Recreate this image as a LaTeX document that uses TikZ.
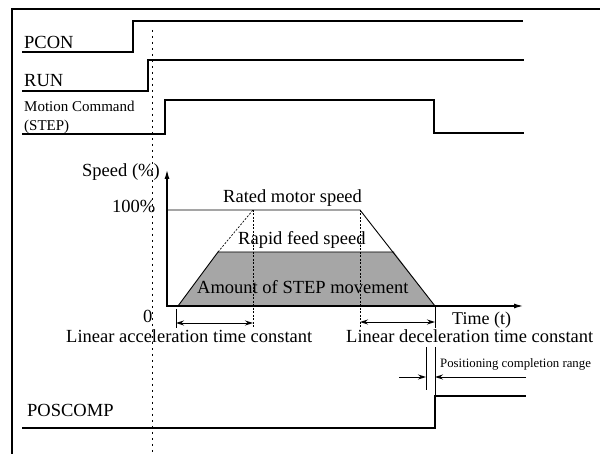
\documentclass[tikz,border=0pt]{standalone}
\usepackage{fontspec}
\setmainfont{Liberation Serif}
\usetikzlibrary{arrows.meta}
\begin{document}
\begin{tikzpicture}[x=1pt,y=-1pt,
  sig/.style={line width=1.3pt},
  thinln/.style={line width=0.9pt},
  guide/.style={line width=0.7pt, dash pattern=on 2pt off 1.5pt},
  lbl/.style={anchor=base west, inner sep=0pt, font=\fontsize{18.5}{20}\selectfont},
  sml/.style={anchor=base west, inner sep=0pt, font=\fontsize{15}{16}\selectfont},
  tinylbl/.style={anchor=base west, inner sep=0pt, font=\fontsize{12.8}{13}\selectfont},
  dimarr/.style={line width=0.9pt, {Stealth[length=8pt,width=5pt]}-{Stealth[length=8pt,width=5pt]}},
  onearr/.style={line width=0.9pt, -{Stealth[length=8pt,width=5pt]}},
  axis/.style={line width=1.1pt, -{Latex[length=9pt,width=5pt]}},
]
\useasboundingbox (0,0) rectangle (600,454);
\fill[white] (0,0) rectangle (600,454);
% frame
\draw[line width=1.2pt] (12,454) -- (12,9) -- (600,9);
% reference dashed line
\coordinate (g1) at (152,30);
\coordinate (g2) at (152,454);
\draw[line width=0.6pt, dash pattern=on 2pt off 4pt] (g1) -- (g2);

% waveforms
\coordinate (p0) at (22,52); \coordinate (p1) at (133,52); \coordinate (p2) at (133,21); \coordinate (p3) at (523,21);
\draw[sig] (p0) -- (p1) -- (p2) -- (p3);
\coordinate (r0) at (22,91); \coordinate (r1) at (148,91); \coordinate (r2) at (148,60); \coordinate (r3) at (524,60);
\draw[sig] (r0) -- (r1) -- (r2) -- (r3);
\coordinate (m0) at (22,134); \coordinate (m1) at (165,134); \coordinate (m2) at (165,100);
\coordinate (m3) at (434,100); \coordinate (m4) at (434,133); \coordinate (m5) at (524,133);
\draw[sig] (m0) -- (m1) -- (m2) -- (m3) -- (m4) -- (m5);
\coordinate (c0) at (22,428); \coordinate (c1) at (435,428); \coordinate (c2) at (435,396); \coordinate (c3) at (526,396);
\draw[sig] (c0) -- (c1) -- (c2) -- (c3);

% speed profile
\coordinate (o) at (167,307);
\coordinate (ytop) at (167,170);
\coordinate (xend) at (523,306);
\coordinate (a0) at (178,306); \coordinate (a1) at (218,252); \coordinate (a2) at (253,210);
\coordinate (d0) at (360,210); \coordinate (d1) at (394,252); \coordinate (d2) at (435,306);
\coordinate (h0) at (167,210);
\fill[black!35] (a0) -- (a1) -- (d1) -- (d2) -- cycle;
\draw[thinln] (a0) -- (a1) -- (d1);
\draw[guide] (a1) -- (a2);
\draw[thinln] (h0) -- (d0) -- (d2);
\draw[axis] (o) -- (ytop);
\draw[axis] (167,306) -- (xend);
% guides and ticks
\coordinate (v1) at (253,328); \coordinate (v2) at (360,328);
\draw[guide] (a2) -- (v1);
\draw[guide] (d0) -- (v2);
\coordinate (t0a) at (176,309); \coordinate (t0b) at (176,328);
\coordinate (t1b) at (435,328);
\draw[thinln] (t0a) -- (t0b);
\draw[thinln] (d2) -- (t1b);
\coordinate (da0) at (176,323); \coordinate (da1) at (253,323);
\coordinate (dd0) at (360,322); \coordinate (dd1) at (435,322);
\draw[dimarr] (da0) -- (da1);
\draw[dimarr] (dd0) -- (dd1);

% positioning completion range
\coordinate (q0) at (426,347); \coordinate (q1) at (426,390);
\coordinate (q2) at (435,347);
\draw[thinln] (q0) -- (q1);
\draw[thinln] (q2) -- (c2);
\coordinate (pa0) at (399,377); \coordinate (pa1) at (426,377);
\coordinate (pb0) at (526,377); \coordinate (pb1) at (435,377);
\draw[onearr] (pa0) -- (pa1);
\draw[onearr] (pb0) -- (pb1);

% labels
\node[lbl] (tpcon) at (24,49) {PCON};
\node[lbl] (trun) at (24,87) {RUN};
\node[sml] (tmc) at (24,112) {Motion Command};
\node[sml] (tstep) at (24,131) {(STEP)};
\node[lbl] (tspeed) at (82,177) {Speed (\%)};
\node[lbl] (t100) at (112,213) {100\%};
\node[lbl] (tzero) at (143,323) {0};
\node[lbl] (trated) at (223,203) {Rated motor speed};
\node[lbl] (trapid) at (238,245) {Rapid feed speed};
\node[lbl] (tamount) at (197,294) {Amount of STEP movement};
\node[lbl, font=\fontsize{18}{19}\selectfont] (ttime) at (452,325) {Time (t)};
\node[lbl] (tacc) at (66,343) {Linear acceleration time constant};
\node[lbl] (tdec) at (346,343) {Linear deceleration time constant};
\node[tinylbl] (tpos) at (440,367) {Positioning completion range};
\node[lbl] (tposc) at (27,417) {POSCOMP};
\end{tikzpicture}
\end{document}
